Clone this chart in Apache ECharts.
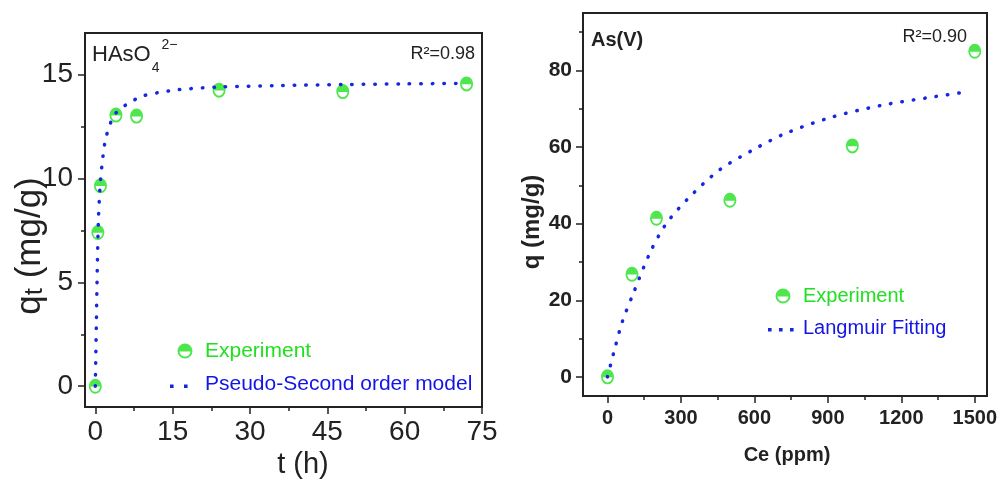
<!DOCTYPE html>
<html>
<head>
<meta charset="utf-8">
<script src="https://cdn.jsdelivr.net/npm/echarts@6/dist/echarts.min.js"></script>
<style>
html, body { margin: 0; background: #fff; }
#main { width: 1000px; height: 486px; }
</style>
</head>
<body>
<div id="main"></div>
<script>
// kinetics panel (left)
var tHours = [0, 0.5, 1, 4, 8, 24, 48, 72];
var qtValues = [0, 7.4, 9.65, 13.05, 13.0, 14.25, 14.18, 14.55];
// pseudo-second order curve
var psoT = [0, 0.2, 0.4, 0.6, 0.8, 1, 1.5, 2, 3, 4, 6, 9, 12, 16, 24, 36, 48, 60, 72];
var psoQ = [0, 3.0, 5.9, 8.0, 9.1, 9.9, 11.1, 11.9, 12.7, 13.15, 13.55, 13.95, 14.12, 14.27, 14.4, 14.47, 14.52, 14.55, 14.58];
var tTicks = [0, 15, 30, 45, 60, 75];
var tMinor = [7.5, 22.5, 37.5, 52.5, 67.5];
var qtTicks = [0, 5, 10, 15];
var qtMinor = [2.5, 7.5, 12.5];

// isotherm panel (right)
var ceValues = [0, 100, 200, 500, 1000, 1500];
var qValues = [0, 26.8, 41.4, 46.1, 60.3, 85.0];
var langC = [0, 30, 60, 105, 175, 240, 330, 455, 590, 725, 915, 1120, 1320, 1480];
var langQ = [0, 7.4, 14.3, 21.7, 32.6, 40.0, 46.6, 53.9, 59.1, 63.5, 67.8, 70.9, 73.0, 74.5];
var ceTicks = [0, 300, 600, 900, 1200, 1500];
var ceMinor = [150, 450, 750, 1050, 1350];
var qTicks = [0, 20, 40, 60, 80];
var qMinor = [10, 30, 50, 70, 90];

var green = '#20e020';
var blue = '#1414e6';
var curveBlue = '#1428e0';
var ink = '#222';
var font = 'Liberation Sans, Arial, sans-serif';
// ring with the top half filled
var halfDot = 'path://M10,0A10,10,0,1,1,10,20A10,10,0,1,1,10,0Z' +
    'M10,2.6A7.4,7.4,0,1,0,10,17.4A7.4,7.4,0,1,0,10,2.6Z' +
    'M2.62,10.5A7.4,7.4,0,1,1,17.38,10.5Z';
// legend icons for the dotted lines, padded to a 30x15 box by two specks
var twoDots = 'path://M0,0h0.01v0.01h-0.01zM30,15h0.01v0.01h-0.01z' +
    'M0,8h3.6v3.6h-3.6zM14,8h3.6v3.6h-3.6z';
var threeDots = 'path://M0,0h0.01v0.01h-0.01zM30,15h0.01v0.01h-0.01z' +
    'M0,7.5h3.6v3.6h-3.6zM11,7.5h3.6v3.6h-3.6zM22,7.5h3.6v3.6h-3.6z';

function zip(a, b) {
    return a.map(function (v, i) { return [v, b[i]]; });
}

function plain(v) {
    return String(v);
}

function axisPair(dim, grid, min, max, major, minor, label) {
    var pos = dim === 'x' ? 'bottom' : 'left';
    return [{
        gridIndex: grid, type: 'value', min: min, max: max, position: pos,
        axisLine: { onZero: false, lineStyle: { color: ink, width: 2 } },
        axisTick: { customValues: major, length: 7, lineStyle: { color: ink, width: 1.5 } },
        axisLabel: Object.assign({ customValues: major, color: ink, fontFamily: font, formatter: plain }, label),
        splitLine: { show: false }
    }, {
        gridIndex: grid, type: 'value', min: min, max: max, position: pos,
        axisLine: { show: false, onZero: false },
        axisTick: { customValues: minor, length: 4, lineStyle: { color: ink, width: 1.5 } },
        axisLabel: { show: false },
        splitLine: { show: false }
    }];
}

var dotted = { color: curveBlue, width: 3.5, type: [0.5, 11], cap: 'round' };

var chart = echarts.init(document.getElementById('main'));
chart.setOption({
    animation: false,
    backgroundColor: '#fff',
    grid: [
        { left: 85, right: 518, top: 33, bottom: 79, show: true, borderColor: ink, borderWidth: 2 },
        { left: 583, right: 11, top: 13, bottom: 90, show: true, borderColor: ink, borderWidth: 2 }
    ],
    xAxis: [].concat(
        axisPair('x', 0, -2, 75, tTicks, tMinor, { fontSize: 28, margin: 11 }),
        axisPair('x', 1, -100, 1550, ceTicks, ceMinor, { fontSize: 20, fontWeight: 'bold', margin: 12 })
    ),
    yAxis: [].concat(
        axisPair('y', 0, -1, 17, qtTicks, qtMinor, { fontSize: 28, margin: 12 }),
        axisPair('y', 1, -5, 95, qTicks, qMinor, { fontSize: 21, fontWeight: 'bold', margin: 11 })
    ),
    legend: [
        {
            orient: 'vertical', left: 170, top: 340, padding: 0,
            itemWidth: 30, itemHeight: 15, itemGap: 11,
            textStyle: { fontSize: 21, fontFamily: font, lineHeight: 22 },
            data: [
                { name: 'Experiment', icon: halfDot, textStyle: { color: green } },
                { name: 'Pseudo-Second order model', icon: twoDots, itemStyle: { color: curveBlue }, textStyle: { color: blue } }
            ]
        },
        {
            orient: 'vertical', left: 768, top: 285, padding: 0,
            itemWidth: 30, itemHeight: 15, itemGap: 10,
            textStyle: { fontSize: 20, fontFamily: font, lineHeight: 22 },
            data: [
                { name: 'Experiment', icon: halfDot, textStyle: { color: green } },
                { name: 'Langmuir Fitting', icon: threeDots, itemStyle: { color: curveBlue }, textStyle: { color: blue } }
            ]
        }
    ],
    series: [
        {
            name: 'Experiment', type: 'scatter', xAxisIndex: 0, yAxisIndex: 0,
            symbol: halfDot, symbolSize: [13, 15],
            itemStyle: { color: green },
            data: zip(tHours, qtValues)
        },
        {
            name: 'Pseudo-Second order model', type: 'line', xAxisIndex: 0, yAxisIndex: 0,
            symbol: 'none', smooth: 0.3,
            lineStyle: dotted, itemStyle: { color: curveBlue },
            data: zip(psoT, psoQ)
        },
        {
            name: 'Experiment', type: 'scatter', xAxisIndex: 2, yAxisIndex: 2,
            symbol: halfDot, symbolSize: [13, 15],
            itemStyle: { color: green },
            data: zip(ceValues, qValues)
        },
        {
            name: 'Langmuir Fitting', type: 'line', xAxisIndex: 2, yAxisIndex: 2,
            symbol: 'none', smooth: 0.3,
            lineStyle: dotted, itemStyle: { color: curveBlue },
            data: zip(langC, langQ)
        }
    ],
    graphic: [
        {
            type: 'text', x: 92, y: 55,
            style: {
                text: 'HAsO{sub|4}{sup|2\u2212}', fontSize: 22, fontFamily: font, fill: ink,
                verticalAlign: 'middle',
                rich: {
                    sub: { fontSize: 14, fontFamily: font, padding: [26, 0, 0, 1] },
                    sup: { fontSize: 14, fontFamily: font, padding: [0, 0, 20, 2] }
                }
            }
        },
        {
            type: 'text', x: 475, y: 54,
            style: { text: 'R\u00b2=0.98', fontSize: 18, fontFamily: font, fill: ink, align: 'right', verticalAlign: 'middle' }
        },
        {
            type: 'text', x: 303, y: 465,
            style: { text: 't (h)', fontSize: 29, fontFamily: font, fill: ink, align: 'center', verticalAlign: 'middle' }
        },
        {
            type: 'text', x: 30, y: 246, rotation: Math.PI / 2,
            style: {
                text: 'q{s|t} (mg/g)', fontSize: 35, fontFamily: font, fill: ink,
                align: 'center', verticalAlign: 'middle',
                rich: { s: { fontSize: 26, fontFamily: font, padding: [10, 0, 0, 0] } }
            }
        },
        {
            type: 'text', x: 591, y: 40,
            style: { text: 'As(V)', fontSize: 20, fontWeight: 'bold', fontFamily: font, fill: ink, verticalAlign: 'middle' }
        },
        {
            type: 'text', x: 967, y: 37,
            style: { text: 'R\u00b2=0.90', fontSize: 18, fontFamily: font, fill: ink, align: 'right', verticalAlign: 'middle' }
        },
        {
            type: 'text', x: 787, y: 455,
            style: { text: 'Ce (ppm)', fontSize: 20, fontWeight: 'bold', fontFamily: font, fill: ink, align: 'center', verticalAlign: 'middle' }
        },
        {
            type: 'text', x: 532, y: 222, rotation: Math.PI / 2,
            style: { text: 'q (mg/g)', fontSize: 24, fontWeight: 'bold', fontFamily: font, fill: ink, align: 'center', verticalAlign: 'middle' }
        }
    ]
});
</script>
</body>
</html>
